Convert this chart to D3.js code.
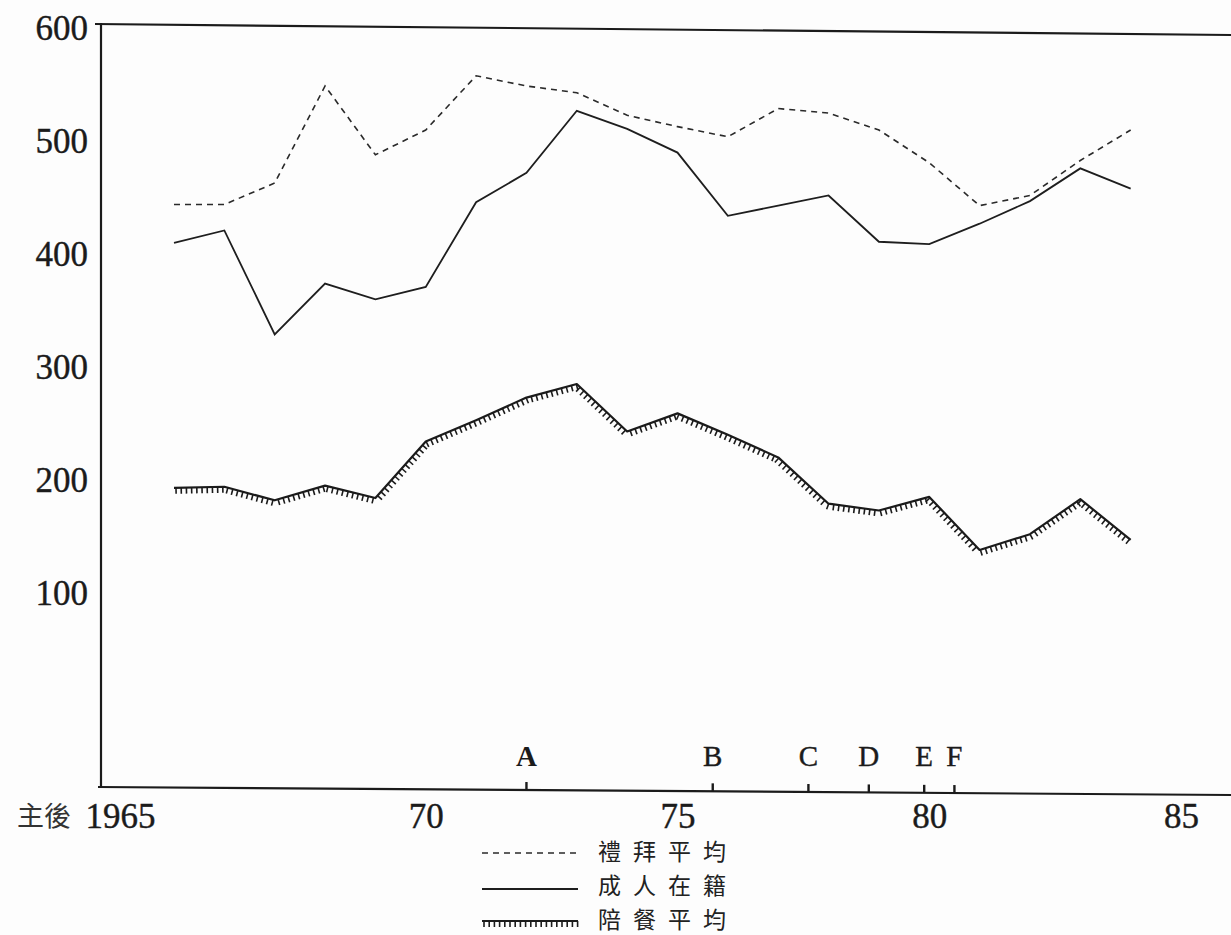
<!DOCTYPE html>
<html><head><meta charset="utf-8">
<script src="https://cdn.jsdelivr.net/npm/d3@7"></script>
<style>
html,body{margin:0;padding:0;background:#fdfdfd;}
svg{display:block;}
</style></head>
<body>
<svg id="chart" width="1231" height="935"></svg>
<script>
// ---- data ----
const years = [1965,1966,1967,1968,1969,1970,1971,1972,1973,1974,1975,1976,1977,1978,1979,1980,1981,1982,1983,1984];
const worship   = [441,441,460,546,485,507,555,546,540,520,510,501,526,522,507,478,440,449,480,507]; // 禮拜平均
const members   = [407,418,326,371,357,368,443,469,524,508,487,431,440,449,408,406,424,444,473,455]; // 成人在籍
const communion = [190,191,179,192,181,231,250,270,282,240,256,237,217,176,170,182,135,149,180,144]; // 陪餐平均
const yTicks = [100,200,300,400,500,600];
const xTicks = [1965,1970,1975,1980,1985];
const xTickLabels = ["1965","70","75","80","85"];
const xPrefix = "主後";
const eventLabels = ["A","B","C","D","E","F"];
const eventYears  = [1972.0,1975.7,1977.6,1978.8,1979.9,1980.5];
const seriesNames = ["禮拜平均","成人在籍","陪餐平均"];

// ---- layout ----
const svg = d3.select("#chart");
const frameLeft = 101, frameRight = 1231;
const topL = 24, topR = 35, botL = 787, botR = 795;
const botAt = xx => botL + (botR-botL)*(xx-98)/(frameRight-98);
const x = d3.scaleLinear().domain([1965,1985]).range([174,1181]);
const y = d3.scaleLinear().domain([0,600]).range([702.4,25]);
const ink = "#1b1b1b";
const serif = "'Liberation Serif','DejaVu Serif',serif";

// frame
svg.append("line").attr("x1",frameLeft).attr("x2",frameLeft).attr("y1",topL-1).attr("y2",botL+1)
  .attr("stroke",ink).attr("stroke-width",2.2);
svg.append("line").attr("x1",95).attr("x2",frameRight).attr("y1",topL).attr("y2",topR)
  .attr("stroke",ink).attr("stroke-width",2.2);
svg.append("line").attr("x1",98).attr("x2",frameRight).attr("y1",botL).attr("y2",botR)
  .attr("stroke",ink).attr("stroke-width",2.2);

// y axis
const yAxis = svg.append("g").attr("transform",`translate(${frameLeft},0)`)
  .call(d3.axisLeft(y).tickValues(yTicks).tickSize(0).tickPadding(13).tickFormat(d3.format("d")));
yAxis.select(".domain").remove();
yAxis.selectAll("text").attr("font-family",serif)
  .attr("font-size",35).attr("fill",ink).attr("stroke",ink).attr("stroke-width",0.4).attr("dy","0.42em");

// x axis
const xAxis = svg.append("g").attr("transform",`translate(0,${botL})`)
  .call(d3.axisBottom(x).tickValues(xTicks).tickSize(0).tickPadding(0)
    .tickFormat((d,i)=>xTickLabels[i]));
xAxis.select(".domain").remove();
xAxis.selectAll("text").attr("font-family",serif).attr("y",41).attr("dy",null)
  .attr("font-size",35).attr("fill",ink).attr("stroke",ink).attr("stroke-width",0.4);
xAxis.selectAll(".tick").filter(d=>d===1965).select("text")
  .attr("text-anchor","end").attr("dx",-19);
// prefix
svg.append("text").attr("x",71).attr("y",826).attr("text-anchor","end")
  .attr("font-family","'Noto Sans CJK TC','Noto Sans CJK JP',sans-serif")
  .attr("font-size",27).attr("fill","#333").text(xPrefix);

// event markers
const ev = svg.append("g");
eventYears.forEach((yr,i)=>{
  const xx = x(yr), by = botAt(xx);
  ev.append("line").attr("x1",xx).attr("x2",xx).attr("y1",by-8).attr("y2",by)
    .attr("stroke",ink).attr("stroke-width",2.4);
  ev.append("text").attr("x",xx).attr("y",766).attr("text-anchor","middle")
    .attr("font-family",serif)
    .attr("font-size",29).attr("font-weight",i===0?"bold":"normal").attr("fill",ink)
    .attr("stroke",ink).attr("stroke-width",i===0?0:0.4)
    .text(eventLabels[i]);
});

// lines
const line = d3.line().x((d,i)=>x(years[i])).y(d=>y(d));
svg.append("path").datum(worship).attr("d",line).attr("fill","none")
  .attr("stroke","#2a2a2a").attr("stroke-width",1.6).attr("stroke-dasharray","6,5");
svg.append("path").datum(members).attr("d",line).attr("fill","none")
  .attr("stroke","#1e1e1e").attr("stroke-width",1.8);

function hatched(g, pts, spacing, len){
  const p = g.append("path").attr("d", d3.line()(pts)).attr("fill","none")
    .attr("stroke",ink).attr("stroke-width",2.2).attr("stroke-linejoin","round");
  const node = p.node();
  const total = node.getTotalLength();
  const ticks = [];
  for(let s=2; s<total; s+=spacing){
    const a = node.getPointAtLength(Math.max(0,s-0.5));
    const b = node.getPointAtLength(Math.min(total,s+0.5));
    const c = node.getPointAtLength(s);
    let dx=b.x-a.x, dy=b.y-a.y; const L=Math.hypot(dx,dy)||1; dx/=L; dy/=L;
    let nx=-dy, ny=dx; if(ny<0){nx=-nx;ny=-ny;}
    ticks.push([c.x,c.y,c.x+nx*len,c.y+ny*len]);
  }
  g.selectAll(null).data(ticks).enter().append("line")
    .attr("x1",d=>d[0]).attr("y1",d=>d[1]).attr("x2",d=>d[2]).attr("y2",d=>d[3])
    .attr("stroke",ink).attr("stroke-width",1.6);
}
hatched(svg.append("g"), communion.map((v,i)=>[x(years[i]),y(v)]), 5.2, 6);

// legend
const lg = svg.append("g");
const legX1 = 482, legX2 = 578, textX = 598;
const legRows = [852, 886, 920];
lg.append("line").attr("x1",legX1).attr("x2",legX2).attr("y1",853).attr("y2",853)
  .attr("stroke","#2a2a2a").attr("stroke-width",1.5).attr("stroke-dasharray","6,5");
lg.append("line").attr("x1",legX1).attr("x2",legX2).attr("y1",889).attr("y2",889)
  .attr("stroke","#1e1e1e").attr("stroke-width",1.8);
hatched(lg, [[legX1,921],[legX2,921]], 5.2, 6);
seriesNames.forEach((n,i)=>{
  lg.append("text").attr("x",textX).attr("y",legRows[i]).attr("dy","0.36em")
    .attr("font-family","'Noto Sans CJK TC','Noto Sans CJK JP',sans-serif")
    .attr("font-size",23).attr("letter-spacing",12).attr("fill","#222").text(n);
});
</script>
</body></html>
